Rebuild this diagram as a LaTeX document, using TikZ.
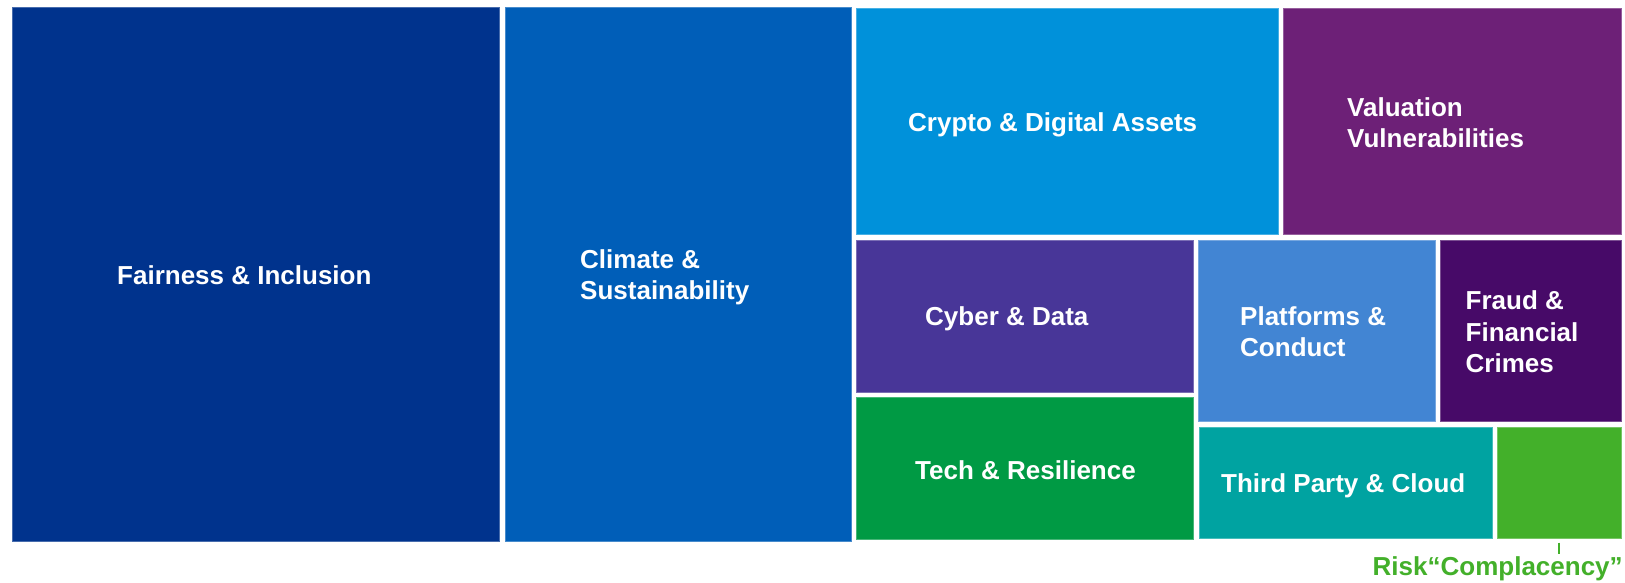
\documentclass[tikz,border=0pt]{standalone}
\usepackage{fontspec}
\setmainfont{Liberation Sans}
\definecolor{cFair}{HTML}{00338D}
\definecolor{cClim}{HTML}{005EB8}
\definecolor{cCryp}{HTML}{0091DA}
\definecolor{cValu}{HTML}{6D2077}
\definecolor{cCyber}{HTML}{483698}
\definecolor{cPlat}{HTML}{4285D3}
\definecolor{cFraud}{HTML}{470A68}
\definecolor{cTech}{HTML}{009A44}
\definecolor{cThird}{HTML}{00A3A1}
\definecolor{cRisk}{HTML}{43B02A}
\newcommand\labfont{\fontsize{26}{31.5}\selectfont\bfseries}
\newcommand\twoline[1]{\begin{tabular}[t]{@{}l@{}}#1\end{tabular}}
\begin{document}
\begin{tikzpicture}[x=1pt,y=-1pt,
  tile/.style={draw=#1!72!white, line width=0.8pt, fill=#1, inner sep=0pt, outer sep=0pt, anchor=north west},
  lab/.style={text=white, font=\labfont, inner sep=0pt, anchor=base west},
  risklab/.style={text=cRisk, font=\fontsize{26}{30}\selectfont\bfseries, inner sep=0pt, anchor=base},
  tick/.style={draw=cRisk, line width=2pt}]
\useasboundingbox[fill=white] (0,0) rectangle (1625,582);
% tiles
\node[tile=cFair,  minimum width=487.5pt, minimum height=534pt]   (fair)  at (12,7) {};
\node[tile=cClim,  minimum width=346pt,   minimum height=534pt]   (clim)  at (505,7) {};
\node[tile=cCryp,  minimum width=422.3pt, minimum height=226.2pt] (cryp)  at (856,8.5) {};
\node[tile=cValu,  minimum width=338pt,   minimum height=226.2pt] (valu)  at (1283.7,8.5) {};
\node[tile=cCyber, minimum width=337.3pt, minimum height=152pt]   (cyber) at (856,240) {};
\node[tile=cPlat,  minimum width=236.6pt, minimum height=181.3pt] (plat)  at (1198.7,240) {};
\node[tile=cFraud, minimum width=181.4pt, minimum height=181.3pt] (fraud) at (1440.3,240) {};
\node[tile=cTech,  minimum width=337.3pt, minimum height=142pt]   (tech)  at (856,397.7) {};
\node[tile=cThird, minimum width=293pt,   minimum height=111.7pt] (third) at (1199,427) {};
\node[tile=cRisk,  minimum width=123.6pt, minimum height=111.7pt] (risk)  at (1497.7,427) {};
% labels
\node[lab] (lfair)  at (117,284)    {Fairness \& Inclusion};
\node[lab] (lclim)  at (580,268.3)  {\twoline{Climate \&\\Sustainability}};
\node[lab] (lcryp)  at (908,131.5)  {Crypto \& Digital Assets};
\node[lab] (lvalu)  at (1347,116)   {\twoline{Valuation\\Vulnerabilities}};
\node[lab] (lcyber) at (925,325)    {Cyber \& Data};
\node[lab] (lplat)  at (1240,325)   {\twoline{Platforms \&\\Conduct}};
\node[lab] (lfraud) at (1465.5,309.5) {\twoline{Fraud \&\\Financial\\Crimes}};
\node[lab] (ltech)  at (915,479.5)  {Tech \& Resilience};
\node[lab] (lthird) at (1221,492.7) {Third Party \& Cloud};
% risk callout
\node[risklab] (lrisk) at (1497.7,575) {Risk“Complacency”};
\coordinate (t1) at (1559.3,542.7);
\coordinate (t2) at (1559.3,554.3);
\draw[tick] (t1) -- (t2);
\end{tikzpicture}
\end{document}
